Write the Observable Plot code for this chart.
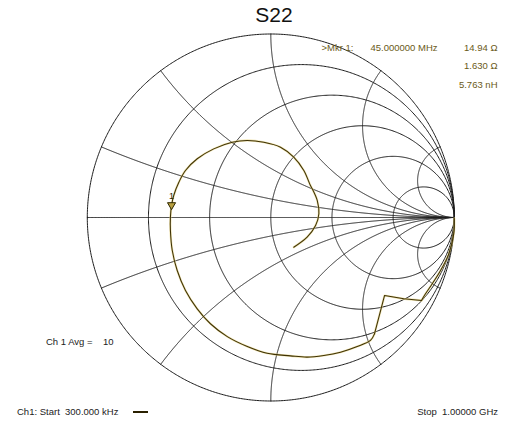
<!DOCTYPE html>
<html>
<head>
<meta charset="utf-8">
<script src="https://cdn.jsdelivr.net/npm/d3@7"></script>
<script src="https://cdn.jsdelivr.net/npm/@observablehq/plot@0.6"></script>
<style>
  body { margin: 0; background: #fff; font-family: "Liberation Sans", Arial, sans-serif; }
  #wrap { position: relative; width: 510px; height: 428px; overflow: hidden; background: #fff; }
  #title { position: absolute; left: 274px; top: 3px; transform: translateX(-50%); font-size: 21px; line-height: 24px; color: #111; }
  #chart { position: absolute; left: 0; top: 30px; }
  .foot { position: absolute; top: 406px; font-size: 9.5px; line-height: 12px; color: #222; white-space: pre; }
  #swatch { position: absolute; left: 133px; top: 411px; width: 15px; height: 2px; background: #2a2000; }
</style>
</head>
<body>
<div id="wrap">
  <div id="title">S22</div>
  <div id="chart"></div>
  <div class="foot" style="left:17px">Ch1: Start  300.000 kHz</div>
  <div id="swatch"></div>
  <div class="foot" style="right:12px">Stop  1.00000 GHz</div>
</div>
<script>
// ---- Smith chart grid values (normalized) ----
const resistanceValues = [0, 0.2, 0.5, 1, 2, 5];
const reactanceValues = [0, 0.2, -0.2, 0.5, -0.5, 1, -1, 2, -2, 5, -5];

// ---- Measured trace: reflection coefficient (real, imaginary), read from the picture ----
// part 1: right edge, smooth
const trace1Re = [1.000, 0.997, 0.970, 0.925, 0.880, 0.843, 0.821];
const trace1Im = [-0.005, -0.089, -0.198, -0.289, -0.361, -0.416, -0.452];
// part 2: jagged step
const trace2Re = [0.821, 0.725, 0.620, 0.589, 0.565];
const trace2Im = [-0.452, -0.443, -0.425, -0.543, -0.634];
// part 3: smooth spiral
const trace3Re = [0.565, 0.543, 0.471, 0.380, 0.289, 0.198, 0.107, -0.020, -0.128, -0.237, -0.329, -0.401, -0.465, -0.510,
  -0.537, -0.547, -0.547, -0.541, -0.529, -0.501, -0.465, -0.401, -0.311, -0.210, -0.129, -0.038,
  0.053, 0.125, 0.180, 0.216, 0.226, 0.253, 0.262, 0.244, 0.198, 0.125];
const trace3Im = [-0.634, -0.670, -0.703, -0.734, -0.752, -0.761, -0.754, -0.740, -0.703, -0.649, -0.579, -0.498, -0.398, -0.289,
  -0.180, -0.071, 0.002, 0.065, 0.120, 0.192, 0.256, 0.320, 0.374, 0.410, 0.420, 0.410,
  0.383, 0.329, 0.256, 0.174, 0.156, 0.093, 0.020, -0.044, -0.107, -0.162];

// ---- Marker ----
const markerRe = [-0.541];
const markerIm = [0.068];
const markerLabel = ["1"];
const markerReadout = [">Mkr 1:", "45.000000 MHz"];
const markerValues = ["14.94 \u03A9", "1.630 \u03A9", "5.763 nH"];
const avgLabel = ["Ch 1 Avg =", "10"];

// ---- build grid curves via the z -> Gamma mapping ----
function gamma(r, x) {
  const d = (r + 1) * (r + 1) + x * x;
  return [(r * r - 1 + x * x) / d, (2 * x) / d];
}
const grid = [];
const N = 720;
resistanceValues.forEach(r => {
  for (let k = 0; k <= N; k++) {
    const u = -Math.PI / 2 + Math.PI * k / N;
    if (k === 0 || k === N) { grid.push({g: "r" + r, gx: 1, gy: 0}); continue; }
    const [gx, gy] = gamma(r, Math.tan(u));
    grid.push({g: "r" + r, gx, gy});
  }
});
reactanceValues.forEach(x => {
  for (let k = 0; k <= N; k++) {
    const u = (Math.PI / 2) * k / N;
    if (k === N) { grid.push({g: "x" + x, gx: 1, gy: 0}); continue; }
    const [gx, gy] = gamma(Math.tan(u), x);
    grid.push({g: "x" + x, gx, gy});
  }
});

const toPts = (re, im) => re.map((v, i) => ({gx: v, gy: im[i]}));
const t1 = toPts(trace1Re, trace1Im);
const t2 = toPts(trace2Re, trace2Im);
const t3 = toPts(trace3Re, trace3Im);
const marker = markerRe.map((re, i) => ({gx: re, gy: markerIm[i], label: markerLabel[i]}));

const textColor = "#6a5a18";
const font = "Liberation Sans, Arial, sans-serif";
const under = {x: "gx", y: "gy", stroke: "#e8d480", strokeWidth: 2.2, strokeOpacity: 0.6};
const core = {x: "gx", y: "gy", stroke: "#3e3205", strokeWidth: 1.05};

const chart = Plot.plot({
  width: 510,
  height: 376,
  margin: 0,
  style: {background: "transparent", fontFamily: font},
  x: {domain: [-1, 1], range: [86.8, 453.8], axis: null},
  y: {domain: [-1, 1], range: [370.5, 3.5], axis: null},
  marks: [
    Plot.line(grid, {x: "gx", y: "gy", z: "g", stroke: "#1c1c1c", strokeWidth: 1}),
    Plot.line(t1, {...under, curve: "catmull-rom"}),
    Plot.line(t2, {...under, curve: "linear"}),
    Plot.line(t3, {...under, curve: "catmull-rom"}),
    Plot.line(t1, {...core, curve: "catmull-rom"}),
    Plot.line(t2, {...core, curve: "linear"}),
    Plot.line(t3, {...core, curve: "catmull-rom"}),
    Plot.dot(marker, {x: "gx", y: "gy", symbol: "triangle", rotate: 180, r: 3, stroke: "#2f2800", fill: "#b8a040", strokeWidth: 1}),
    Plot.text(marker, {x: "gx", y: "gy", text: "label", dy: -9, fontSize: 9, fill: "#2f2800"}),
    Plot.text([markerReadout[0]], {text: d => d, frameAnchor: "top-left", dx: 321, dy: 13.5, textAnchor: "start", fontSize: 9.5, fill: textColor}),
    Plot.text([markerReadout[1]], {text: d => d, frameAnchor: "top-left", dx: 370, dy: 13.5, textAnchor: "start", fontSize: 9.5, fill: textColor}),
    Plot.text([markerValues[0]], {text: d => d, frameAnchor: "top-right", dx: -13, dy: 13.5, textAnchor: "end", fontSize: 9.5, fill: textColor}),
    Plot.text([markerValues[1]], {text: d => d, frameAnchor: "top-right", dx: -13, dy: 32, textAnchor: "end", fontSize: 9.5, fill: textColor}),
    Plot.text([markerValues[2]], {text: d => d, frameAnchor: "top-right", dx: -13, dy: 51, textAnchor: "end", fontSize: 9.5, fill: textColor}),
    Plot.text([avgLabel[0]], {text: d => d, frameAnchor: "top-left", dx: 45.5, dy: 308, textAnchor: "start", fontSize: 9.5, fill: "#222"}),
    Plot.text([avgLabel[1]], {text: d => d, frameAnchor: "top-left", dx: 102.5, dy: 308, textAnchor: "start", fontSize: 9.5, fill: "#222"})
  ]
});
document.getElementById("chart").appendChild(chart);
</script>
</body>
</html>
